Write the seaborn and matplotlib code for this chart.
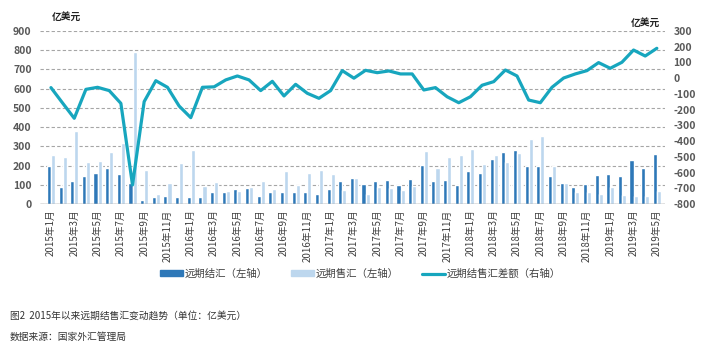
import numpy as np
import pandas as pd
import matplotlib
matplotlib.use("Agg")
import matplotlib.pyplot as plt
import seaborn as sns
from matplotlib.patches import Patch
from matplotlib.lines import Line2D

# months 2015-01 .. 2019-05
months = [f"{y}年{m}月" for y in range(2015, 2020) for m in range(1, 13)][:53]

# forward settlement (dark bars, left axis)
settle = [200, 90, 118, 146, 163, 188, 158, 109, 21, 35, 40, 35, 35, 35, 61, 60,
          78, 84, 42, 61, 61, 61, 61, 52, 76, 120, 134, 102, 120, 123, 97, 128,
          203, 120, 125, 97, 171, 161, 234, 269, 281, 200, 200, 146, 109, 89, 104,
          149, 156, 146, 227, 188, 259]
# forward sales (light bars, left axis)
sales = [255, 245, 380, 217, 226, 272, 316, 793, 177, 52, 109, 213, 281, 95, 113, 66,
         67, 87, 120, 78, 170, 99, 163, 179, 156, 73, 134, 50, 90, 82, 73, 95,
         276, 186, 245, 253, 286, 208, 255, 219, 264, 339, 354, 196, 109, 61, 60,
         52, 90, 49, 43, 43, 68]
# net (line, right axis)
net = [-60, -158, -255, -71, -58, -79, -160, -679, -149, -16, -58, -177, -251, -58, -55, -11,
       14, -11, -79, -20, -113, -39, -96, -128, -79, 48, 0, 50, 35, 46, 27, 27,
       -75, -60, -118, -156, -118, -45, -22, 52, 14, -139, -156, -58, 1, 27, 48,
       99, 63, 101, 179, 141, 190]

s1 = "远期结汇（左轴）"
s2 = "远期售汇（左轴）"
s3 = "远期结售汇差额（右轴）"
c_dark = "#2E78B8"
c_light = "#BDD7EE"
c_line = "#17A6BE"

sns.set_theme(style="white")
plt.rcParams["font.family"] = ["Noto Sans CJK SC", "DejaVu Sans"]
plt.rcParams["axes.unicode_minus"] = False

df = pd.DataFrame({"month": months * 2,
                   "value": settle + sales,
                   "kind": [s1] * 53 + [s2] * 53})

fig = plt.figure(figsize=(7.21, 3.56), dpi=100)
ax = fig.add_axes([40 / 721, 1 - 204 / 356, 625 / 721, 173 / 356])

sns.barplot(data=df, x="month", y="value", hue="kind", palette={s1: c_dark, s2: c_light},
            width=0.7, errorbar=None, legend=False, ax=ax, saturation=1)

ax2 = ax.twinx()
sns.lineplot(x=np.arange(53), y=net, color=c_line, linewidth=2.3, ax=ax2)

ax.set_ylim(0, 900)
ax.set_yticks(range(0, 901, 100))
ax2.set_ylim(-800, 300)
ax2.set_yticks(range(-800, 301, 100))
ax.set_xlim(-0.94, 52.7)

ax.set_xticks(range(0, 53, 2))
ax.set_xticklabels(months[::2], rotation=90, fontsize=7, color="#404040")
ax.tick_params(axis="x", length=0, pad=4)
ax.tick_params(axis="y", length=0, pad=6, labelsize=7.5, labelcolor="#595959")
ax2.tick_params(axis="y", length=0, pad=6, labelsize=7.5, labelcolor="#595959")
for t in ax.get_yticklabels() + ax2.get_yticklabels():
    t.set_fontweight("bold")
ax.set_xlabel("")
ax.set_ylabel("")
ax2.set_ylabel("")

ax.set_axisbelow(True)
ax.yaxis.grid(True, linestyle=(0, (3, 2)), color="#A6A6A6", linewidth=0.8)
for a in (ax, ax2):
    for side in ("top", "left", "right"):
        a.spines[side].set_visible(False)
    a.spines["bottom"].set_visible(False)
ax.axhline(0, color="#7F7F7F", linewidth=1.0, zorder=3)

fig.text(52 / 721, 1 - 17 / 356, "亿美元", fontsize=7, fontweight="bold", va="center", color="#222222")
fig.text(631 / 721, 1 - 23 / 356, "亿美元", fontsize=7, fontweight="bold", va="center", color="#222222")

handles = [Patch(color=c_dark), Patch(color=c_light), Line2D([], [], color=c_line, linewidth=2.3)]
leg = fig.legend(handles, [s1, s2, s3], loc="center", bbox_to_anchor=(0.5, 1 - 274 / 356),
                 ncol=3, frameon=False, fontsize=7.5, handlelength=2.2, handleheight=0.5,
                 handletextpad=0.2, columnspacing=2.2)
for t in leg.get_texts():
    t.set_color("#404040")

fig.text(10 / 721, 1 - 316 / 356, "图2  2015年以来远期结售汇变动趋势（单位：亿美元）",
         fontsize=7, va="center", color="#333333")
fig.text(10 / 721, 1 - 337 / 356, "数据来源：国家外汇管理局", fontsize=7, va="center", color="#333333")

fig.savefig("out.png", dpi=100)
